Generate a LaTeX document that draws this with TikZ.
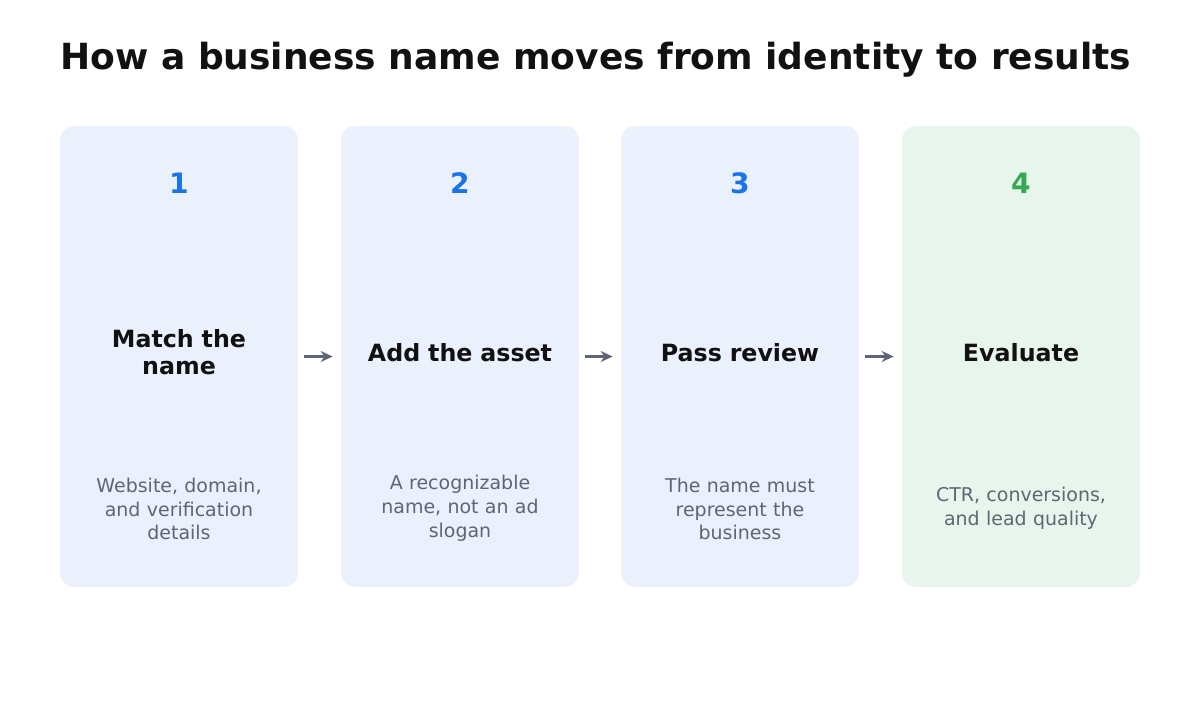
\documentclass[tikz,border=0pt]{standalone}
\usepackage{fontspec}
\setmainfont{DejaVu Sans}
\usepackage{xcolor}
\usetikzlibrary{arrows.meta}
\definecolor{cardblue}{HTML}{EAF1FD}
\definecolor{cardgreen}{HTML}{E8F5EC}
\definecolor{stepblue}{HTML}{1A73E8}
\definecolor{stepgreen}{HTML}{34A853}
\definecolor{subgray}{HTML}{5F6673}
\definecolor{inkdark}{HTML}{111111}
\begin{document}
\begin{tikzpicture}[x=0.02cm,y=-0.02cm,
    card/.style={draw=none, rounded corners=0.28cm, minimum width=4.76cm, minimum height=9.22cm},
    num/.style={font=\fontsize{16}{19}\selectfont\bfseries},
    head/.style={font=\fontsize{13.5}{15}\selectfont\bfseries, text=inkdark, align=center, text width=3.9cm},
    desc/.style={font=\fontsize{10.8}{13.6}\selectfont, text=subgray, align=center, text width=3.8cm},
    flow/.style={-{Stealth[length=0.24cm,width=0.22cm]}, line width=1.6pt, draw=subgray, shorten <=0.12cm, shorten >=0.16cm}]
        \useasboundingbox (0,0) rectangle (1200,700);
        \node[font=\fontsize{20.5}{24}\selectfont\bfseries, text=inkdark] (title) at (596,60) {How a business name moves from identity to results};
        % cards
        \node[card, fill=cardblue] (c1) at (179,356.5) {};
        \node[card, fill=cardblue] (c2) at (460,356.5) {};
        \node[card, fill=cardblue] (c3) at (740,356.5) {};
        \node[card, fill=cardgreen] (c4) at (1021,356.5) {};
        % numbers
        \node[num, text=stepblue] (n1) at (179,183) {1};
        \node[num, text=stepblue] (n2) at (460,183) {2};
        \node[num, text=stepblue] (n3) at (740,183) {3};
        \node[num, text=stepgreen] (n4) at (1021,183) {4};
        % headings
        \node[head] (h1) at (179,352) {Match the\\name};
        \node[head] (h2) at (460,353) {Add the asset};
        \node[head] (h3) at (740,353) {Pass review};
        \node[head] (h4) at (1021,353) {Evaluate};
        % descriptions
        \node[desc] (d1) at (179,509) {Website, domain,\\and verification\\details};
        \node[desc] (d2) at (460,508) {A recognizable\\name, not an ad\\slogan};
        \node[desc] (d3) at (740,509) {The name must\\represent the\\business};
        \node[desc] (d4) at (1021,508) {CTR, conversions,\\and lead quality};
        % arrows
        \draw[flow] (c1) -- (c2);
        \draw[flow] (c2) -- (c3);
        \draw[flow] (c3) -- (c4);
\end{tikzpicture}
\end{document}
